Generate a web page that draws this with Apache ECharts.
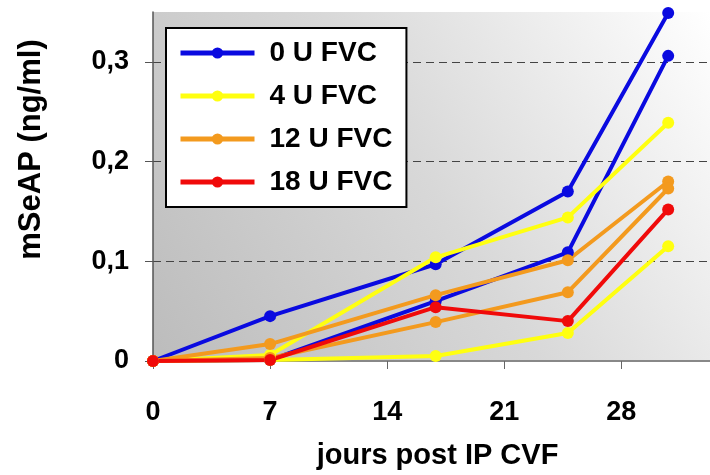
<!DOCTYPE html>
<html>
<head>
<meta charset="utf-8">
<script src="https://cdn.jsdelivr.net/npm/echarts@6/dist/echarts.min.js"></script>
<style>html,body{margin:0;padding:0;background:#fff;}#c{width:710px;height:475px;}</style>
</head>
<body>
<div id="c"></div>
<script>
const days = [0, 7, 16.9, 24.8, 30.8];
const seriesNames = ['0 U FVC', '4 U FVC', '12 U FVC', '18 U FVC'];
const fvc0a = [0, 0.045, 0.097, 0.170, 0.349];
const fvc0b = [0, 0.001, 0.060, 0.109, 0.306];
const fvc4a = [0, 0.006, 0.104, 0.144, 0.239];
const fvc4b = [0, 0.001, 0.005, 0.028, 0.115];
const fvc12a = [0, 0.017, 0.066, 0.101, 0.180];
const fvc12b = [0, 0.003, 0.039, 0.069, 0.173];
const fvc18 = [0, 0.001, 0.054, 0.040, 0.152];
const xTicks = [0, 7, 14, 21, 28];
const yTicks = [0, 0.1, 0.2, 0.3];

const colors = {'0 U FVC': '#0a0ae0', '4 U FVC': '#ffff10', '12 U FVC': '#f39a1e', '18 U FVC': '#f00a0a'};
const FONT = 'Liberation Sans, Arial, sans-serif';

function mk(name, arr) {
  return {
    name: name, type: 'line', clip: false,
    data: days.map((d, i) => [d, arr[i]]),
    symbol: 'circle', symbolSize: 12,
    lineStyle: {width: 4, color: colors[name]},
    itemStyle: {color: colors[name]},
    emphasis: {disabled: true}
  };
}

const chart = echarts.init(document.getElementById('c'));
chart.setOption({
  animation: false,
  grid: {
    left: 153, top: 12, right: 0, bottom: 113, show: true, borderWidth: 0,
    backgroundColor: new echarts.graphic.LinearGradient(0, 1, 1, 0, [
      {offset: 0, color: '#bcbcbc'}, {offset: 0.5, color: '#d8d8d8'}, {offset: 1, color: '#ffffff'}
    ])
  },
  legend: {
    data: seriesNames, orient: 'vertical', left: 166, top: 28,
    backgroundColor: '#fff', borderColor: '#000', borderWidth: 2,
    padding: [10, 14, 10, 12], itemWidth: 74, itemHeight: 14, itemGap: 13,
    lineStyle: {width: 5},
    textStyle: {fontFamily: FONT, fontWeight: 'bold', fontSize: 28, color: '#000', lineHeight: 30, padding: [0, 0, 0, 10]}
  },
  xAxis: {
    type: 'value', min: 0, max: 33.3, interval: 7,
    axisLine: {show: true, lineStyle: {color: '#888', width: 2}},
    axisTick: {show: true, length: 8, lineStyle: {color: '#666'}, customValues: xTicks},
    axisLabel: {customValues: xTicks, margin: 38, fontFamily: FONT, fontWeight: 'bold', fontSize: 27, color: '#000'},
    splitLine: {show: false},
    name: 'jours post IP CVF', nameLocation: 'middle', nameGap: 80,
    nameTextStyle: {fontFamily: FONT, fontWeight: 'bold', fontSize: 29, color: '#000', padding: [0, 0, 0, 12]}
  },
  yAxis: {
    type: 'value', min: 0, max: 0.35, interval: 0.1,
    axisLine: {show: true, lineStyle: {color: '#555', width: 1.5}},
    axisTick: {show: true, length: 8, lineStyle: {color: '#555'}, customValues: yTicks},
    axisLabel: {customValues: yTicks, margin: 24, fontFamily: FONT, fontWeight: 'bold', fontSize: 27, color: '#000',
      formatter: v => v === 0 ? '0' : String(Math.round(v * 10) / 10).replace('.', ',')},
    splitLine: {show: true, showMinLine: false, lineStyle: {color: '#444', type: [8, 5], width: 1}},
    name: 'mSeAP (ng/ml)', nameLocation: 'middle', nameGap: 106,
    nameTextStyle: {fontFamily: FONT, fontWeight: 'bold', fontSize: 31, color: '#000', padding: [0, 0, 0, 74]}
  },
  series: [
    mk('0 U FVC', fvc0a), mk('0 U FVC', fvc0b),
    mk('4 U FVC', fvc4a), mk('4 U FVC', fvc4b),
    mk('12 U FVC', fvc12a), mk('12 U FVC', fvc12b),
    mk('18 U FVC', fvc18)
  ]
});
</script>
</body>
</html>
